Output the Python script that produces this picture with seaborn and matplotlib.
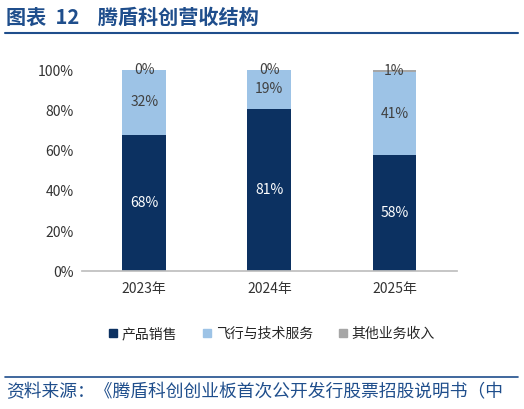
import matplotlib.pyplot as plt
import matplotlib.lines as mlines
import seaborn as sns
import pandas as pd

# data (percent of revenue)
YEARS = ["2023年", "2024年", "2025年"]
PRODUCT = [68, 81, 58]
SERVICE = [32, 19, 41]
OTHER = [0, 0, 1]
SERIES = ["产品销售", "飞行与技术服务", "其他业务收入"]
COLORS = ["#0c3161", "#9dc3e6", "#a6a6a6"]
LABEL_COLORS = ["white", "#404040", "#404040"]

sns.set_theme(style="white")
plt.rcParams["font.family"] = ["Noto Sans CJK SC", "DejaVu Sans"]

fig = plt.figure(figsize=(5.24, 4.09), dpi=100)
ax = fig.add_axes([0.156, 0.337, 0.716, 0.491])

bottom = [0, 0, 0]
for name, vals, color, lc in zip(SERIES, [PRODUCT, SERVICE, OTHER], COLORS, LABEL_COLORS):
    df = pd.DataFrame({"year": YEARS, "val": vals})
    sns.barplot(data=df, x="year", y="val", color=color, width=0.35,
                bottom=bottom, ax=ax, saturation=1, linewidth=0)
    for i, v in enumerate(vals):
        ax.text(i, bottom[i] + v / 2, f"{v}%", ha="center", va="center",
                fontsize=10, color=lc)
    bottom = [b + v for b, v in zip(bottom, vals)]

ax.set_ylim(0, 100)
ax.set_yticks(range(0, 101, 20))
ax.set_yticklabels([f"{t}%" for t in range(0, 101, 20)], fontsize=10, color="#333333")
ax.tick_params(axis="x", labelsize=10, colors="#333333", length=0, pad=8)
ax.tick_params(axis="y", length=0, pad=6)
ax.set_xlabel("")
ax.set_ylabel("")
sns.despine(ax=ax, left=True)
ax.spines["bottom"].set_color("#bfbfbf")

# legend
handles = [mlines.Line2D([], [], marker="s", linestyle="", color=c, markersize=6)
           for c in COLORS]
fig.legend(handles, SERIES, loc="center", bbox_to_anchor=(0.515, 0.183), ncol=3,
           frameon=False, fontsize=10, handletextpad=0.0, handlelength=1.2,
           columnspacing=1.6)

# header and footer
blue = "#1f4e8c"
fig.text(0.012, 0.958, "图表  12    腾盾科创营收结构", fontsize=14.5, fontweight="bold",
         color=blue, va="center")
fig.add_artist(mlines.Line2D([0.01, 0.988], [0.919, 0.919], color=blue, lw=1.5))
fig.add_artist(mlines.Line2D([0.01, 0.988], [0.078, 0.078], color=blue, lw=1.2))
fig.text(0.012, 0.042, "资料来源：《腾盾科创创业板首次公开发行股票招股说明书（中",
         fontsize=12.8, color=blue, va="center")

fig.savefig("out.png", dpi=100)
